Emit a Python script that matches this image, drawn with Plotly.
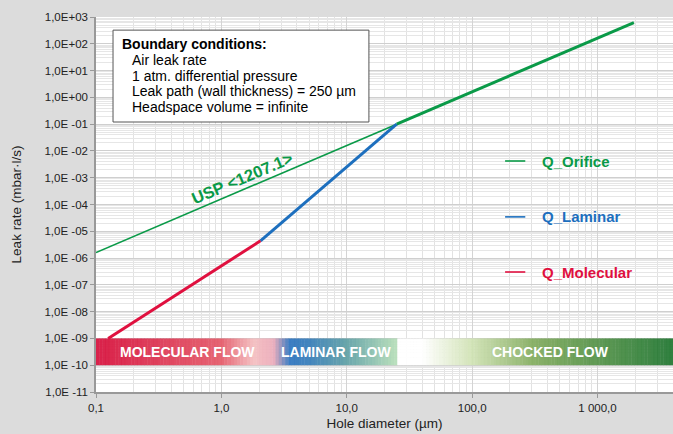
import math
import plotly.graph_objects as go

# leak-rate curves (hole diameter in µm, leak rate in mbar·l/s)
usp_d = [0.1, 25.0]
usp_q = [1.6e-6, 0.1]
orifice_d = [25.0, 1950.0]
orifice_q = [0.1, 620.0]
laminar_d = [2.05, 25.0]
laminar_q = [4.4e-6, 0.1]
molecular_d = [0.125, 2.05]
molecular_q = [1.0e-9, 4.4e-6]

# flow-regime band colours along the diameter axis
band_d = [0.1, 1.0, 1.8, 2.6, 3.5, 5.0, 10.0, 25.0, 25.01, 40.0, 100.0, 320.0, 4000.0]
band_rgb = [(214, 16, 60), (228, 90, 105), (244, 190, 192), (236, 170, 185), (45, 115, 190),
            (55, 125, 185), (95, 160, 165), (182, 222, 184), (255, 255, 255), (255, 255, 255),
            (208, 226, 180), (128, 170, 92), (32, 118, 50)]
band_labels = ["MOLECULAR FLOW", "LAMINAR FLOW", "CHOCKED FLOW"]
band_label_d = [0.54, 8.2, 420.0]

box_lines = ["<b>Boundary conditions:</b>", "Air leak rate", "1 atm. differential pressure",
             "Leak path (wall thickness) = 250 µm", "Headspace volume = infinite"]

y_exp = list(range(-11, 4))
x_ticks = [0.1, 1, 10, 100, 1000]
x_ticktext = ["0,1", "1,0", "10,0", "100,0", "1 000,0"]

GREEN = "#0a9a48"
BLUE = "#1d6fbe"
RED = "#e0103f"

fig = go.Figure()
fig.add_trace(go.Scatter(x=usp_d, y=usp_q, mode="lines", line=dict(color=GREEN, width=1.6)))
fig.add_trace(go.Scatter(x=orifice_d, y=orifice_q, mode="lines", line=dict(color=GREEN, width=3)))
fig.add_trace(go.Scatter(x=laminar_d, y=laminar_q, mode="lines", line=dict(color=BLUE, width=3)))
fig.add_trace(go.Scatter(x=molecular_d, y=molecular_q, mode="lines", line=dict(color=RED, width=3)))


def band_color(ld):
    lds = [math.log10(v) for v in band_d]
    for i in range(len(lds) - 1):
        if lds[i] <= ld <= lds[i + 1]:
            t = (ld - lds[i]) / (lds[i + 1] - lds[i])
            c = [round(a + (b - a) * t) for a, b in zip(band_rgb[i], band_rgb[i + 1])]
            return "rgb(%d,%d,%d)" % tuple(c)
    return "rgb(%d,%d,%d)" % band_rgb[-1]


shapes = []
n = 180
lo, hi = -1.0, math.log10(4000)
for i in range(n):
    a = lo + (hi - lo) * i / n
    b = lo + (hi - lo) * (i + 1) / n
    shapes.append(dict(type="rect", xref="x", yref="y", x0=10 ** a, x1=10 ** (b + 0.003),
                       y0=1e-10, y1=1e-9, fillcolor=band_color((a + b) / 2),
                       line=dict(width=0), layer="between", opacity=0.93))

# legend samples
leg = [("Q_Orifice", GREEN, 0.616), ("Q_Laminar", BLUE, 0.467), ("Q_Molecular", RED, 0.32)]
annotations = []
for name, col, yy in leg:
    shapes.append(dict(type="line", xref="paper", yref="paper", x0=0.709, x1=0.744, y0=yy, y1=yy,
                       line=dict(color=col, width=1.6)))
    annotations.append(dict(text="<b>%s</b>" % name, xref="paper", yref="paper", x=0.769, y=yy,
                            xanchor="left", yanchor="middle", showarrow=False,
                            font=dict(color=col, size=15)))

for lab, d in zip(band_labels, band_label_d):
    annotations.append(dict(text="<b>%s</b>" % lab, x=math.log10(d), y=math.log10(3.2e-10),
                            xref="x", yref="y", showarrow=False, xanchor="center",
                            font=dict(color="white", size=14)))

annotations.append(dict(text="<b>USP &lt;1207.1&gt;</b>", x=math.log10(1.46), y=-3.0,
                        xref="x", yref="y", showarrow=False, textangle=-23,
                        font=dict(color=GREEN, size=16.5)))

# boundary conditions box
shapes.append(dict(type="rect", xref="paper", yref="paper", x0=0.0295, x1=0.473, y0=0.72, y1=0.965,
                   fillcolor="white", line=dict(color="#555555", width=1), layer="above"))
box_y = [44, 60, 75.5, 91, 106.5]
for i, (txt, py) in enumerate(zip(box_lines, box_y)):
    annotations.append(dict(text=txt, xref="paper", yref="paper",
                            x=0.0416 if i == 0 else 0.0589, y=1 - (py - 17) / 375,
                            xanchor="left", yanchor="middle", showarrow=False,
                            font=dict(color="black", size=14)))

fig.update_layout(
    width=673, height=434,
    margin=dict(l=96, r=0, t=17, b=42),
    paper_bgcolor="#dcdcdc", plot_bgcolor="white",
    showlegend=False,
    font=dict(family="Liberation Sans, Arial, sans-serif", color="#222222", size=11.5),
    shapes=shapes, annotations=annotations,
)
fig.update_xaxes(
    type="log", range=[-1, math.log10(4000)],
    tickvals=x_ticks, ticktext=x_ticktext, ticks="outside", ticklen=4, tickcolor="#999999",
    showgrid=True, gridcolor="#d4d4d4", gridwidth=1,
    minor=dict(dtick="D1", showgrid=True, gridcolor="#e2e2e2"),
    showline=True, linecolor="#999999", linewidth=1.5, zeroline=False,
    title=dict(text="Hole diameter (µm)", font=dict(size=13.5), standoff=6),
)
fig.update_yaxes(
    type="log", range=[-11, 3],
    tickvals=[10.0 ** e for e in y_exp],
    ticktext=["1,0E%s%02d" % ("+" if e >= 0 else " -", abs(e)) for e in y_exp],
    ticks="outside", ticklen=4, tickcolor="#999999",
    showgrid=True, gridcolor="#cfcfcf", gridwidth=1,
    minor=dict(dtick="D1", showgrid=True, gridcolor="#e6e6e6"),
    showline=True, linecolor="#999999", linewidth=1.5, zeroline=False,
    title=dict(text="Leak rate (mbar·l/s)", font=dict(size=13.5), standoff=20),
)

fig.write_html("out.html", config={"displayModeBar": False},
               post_script="document.body.style.margin='0';document.body.style.overflow='hidden';")
